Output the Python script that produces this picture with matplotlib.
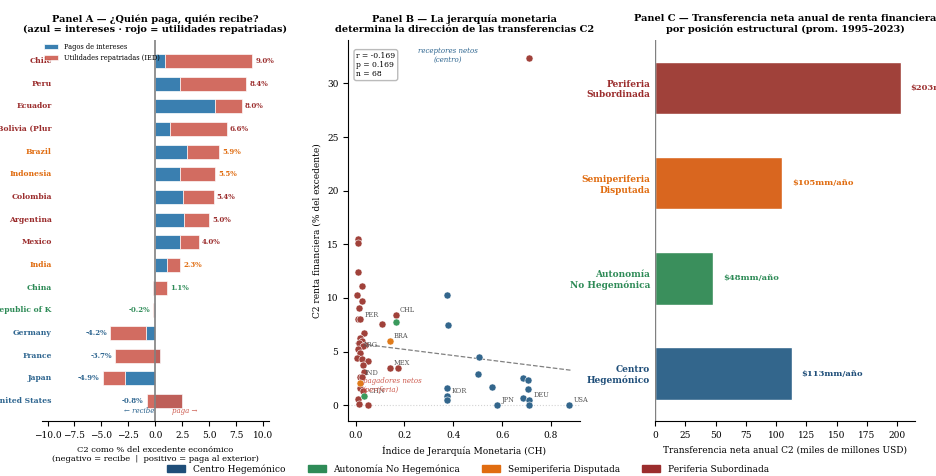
import numpy as np
import matplotlib
matplotlib.use("Agg")
import matplotlib.pyplot as plt
from matplotlib.patches import Patch

plt.rcParams["font.family"] = ["DejaVu Serif"]
plt.rcParams["font.size"] = 6
plt.rcParams["xtick.labelsize"] = 6.5
plt.rcParams["ytick.labelsize"] = 6.5

C_CEN = "#1f4e79"
C_AUT = "#2e8b57"
C_SEM = "#e06c10"
C_PER = "#9b2d2d"
GROUP_COL = {"cen": "#2f6690", "aut": C_AUT, "sem": C_SEM, "per": C_PER}

# --- Panel A data ---
countries = ["Chile", "Peru", "Ecuador", "Bolivia (Plur", "Brazil", "Indonesia", "Colombia",
             "Argentina", "Mexico", "India", "China", "Republic of K", "Germany", "France",
             "Japan", "United States"]
groups_a = ["per", "per", "per", "per", "sem", "sem", "per", "per", "per", "sem", "aut", "aut",
            "cen", "cen", "cen", "cen"]
interest = [0.9, 2.3, 5.5, 1.4, 2.9, 2.3, 2.6, 2.7, 2.3, 1.1, -0.2, -0.1, -0.9, 0.4, -2.8, 2.5]
profits = [8.1, 6.1, 2.5, 5.2, 3.0, 3.2, 2.8, 2.3, 1.7, 1.2, 1.3, -0.1, -3.3, -4.1, -2.1, -3.3]

# --- Panel B data ---
px_per = [0.01, 0.01, 0.01, 0.025, 0.005, 0.025, 0.015, 0.01, 0.02, 0.035, 0.02, 0.025, 0.015,
          0.04, 0.03, 0.01, 0.02, 0.005, 0.025, 0.05, 0.03, 0.035, 0.02, 0.025, 0.02, 0.03,
          0.01, 0.015, 0.05, 0.165, 0.11, 0.14, 0.175, 0.71]
py_per = [15.5, 15.1, 12.4, 11.1, 10.3, 9.7, 9.1, 8.0, 8.0, 6.7, 6.3, 6.0, 5.8, 5.6, 5.5, 5.2,
          4.9, 4.4, 4.3, 4.1, 3.7, 3.1, 2.6, 2.6, 1.6, 1.3, 0.6, 0.1, 0.0, 8.4, 7.6, 3.5, 3.5, 32.4]
px_sem = [0.14, 0.02]
py_sem = [6.0, 2.1]
px_aut = [0.165, 0.035, 0.375]
py_aut = [7.8, 0.9, 0.6]
px_cen = [0.375, 0.38, 0.505, 0.5, 0.56, 0.375, 0.375, 0.375, 0.58, 0.685, 0.705, 0.705,
          0.685, 0.71, 0.71, 0.875]
py_cen = [10.3, 7.5, 4.5, 2.9, 1.7, 1.6, 0.9, 0.5, 0.0, 2.5, 2.3, 1.5, 0.7, 0.5, 0.05, 0.0]
iso_labels = {"PER": (0.02, 8.0), "CHL": (0.165, 8.4), "BRA": (0.14, 6.0), "ARG": (0.01, 5.2),
              "MEX": (0.14, 3.5), "IND": (0.02, 2.6), "CHN": (0.035, 0.9), "KOR": (0.375, 0.9),
              "JPN": (0.58, 0.0), "DEU": (0.71, 0.5), "USA": (0.875, 0.0)}

# --- Panel C data ---
blocks = ["Periferia\nSubordinada", "Semiperiferia\nDisputada", "Autonomía\nNo Hegemónica",
          "Centro\nHegemónico"]
block_vals = [203, 105, 48, 113]
block_cols = ["#a0413a", "#d9661f", "#3a8f5c", "#33668c"]
block_txt = [C_PER, C_SEM, C_AUT, C_CEN]

fig = plt.figure(figsize=(9.36, 4.76), dpi=100)
axA = fig.add_axes([0.045, 0.115, 0.242, 0.8])
axB = fig.add_axes([0.372, 0.115, 0.248, 0.8])
axC = fig.add_axes([0.70, 0.115, 0.278, 0.8])

# Panel A
y = np.arange(len(countries))
axA.barh(y, interest, height=0.62, color="#3a7fb0", edgecolor="white", lw=0.5,
         label="Pagos de intereses")
axA.barh(y, profits, left=interest, height=0.62, color="#cd5c50", alpha=0.9, edgecolor="white",
         lw=0.5, label="Utilidades repatriadas (IED)")
axA.axvline(0, color="gray", lw=1.2)
for i, (a, b, g) in enumerate(zip(interest, profits, groups_a)):
    t = a + b
    col = GROUP_COL[g]
    if t >= 0:
        axA.text(max(t, a) + 0.3, i, f"{t:.1f}%", va="center", ha="left", color=col,
                 fontsize=5, fontweight="bold")
    else:
        axA.text(min(t, a) - 0.3, i, f"{t:.1f}%", va="center", ha="right", color=col,
                 fontsize=5, fontweight="bold")
    axA.text(-9.6, i, countries[i], va="center", ha="right", color=col, fontsize=5.5,
             fontweight="bold")
axA.set_yticks([])
axA.set_ylim(len(countries) - 0.1, -0.9)
axA.set_xlim(-10.5, 10.5)
axA.set_xticks(np.arange(-10, 10.1, 2.5))
axA.text(-0.1, 15.45, "← recibe", ha="right", va="center", fontsize=5, style="italic",
         color="#2f6690")
axA.text(1.5, 15.45, "paga →", ha="left", va="center", fontsize=5, style="italic",
         color="#cd5c50")
for s in ["top", "right", "left"]:
    axA.spines[s].set_visible(False)
axA.set_xlabel("C2 como % del excedente económico\n(negativo = recibe  |  positivo = paga al exterior)",
               fontsize=6)
axA.set_title("Panel A — ¿Quién paga, quién recibe?\n(azul = intereses · rojo = utilidades repatriadas)",
              fontsize=7, fontweight="bold")
axA.legend(loc="upper left", bbox_to_anchor=(-0.02, 1.01), fontsize=4.8, frameon=False,
           handlelength=2.2)

# Panel B
for xs, ys, c in [(px_per, py_per, "#a0413a"), (px_sem, py_sem, "#e07b1a"),
                  (px_aut, py_aut, "#3a9a5c"), (px_cen, py_cen, "#33668c")]:
    axB.scatter(xs, ys, s=26, color=c, edgecolor="white", lw=0.4, zorder=3)
allx = np.array(px_per + px_sem + px_aut + px_cen)
ally = np.array(py_per + py_sem + py_aut + py_cen)
k, b0 = np.polyfit(allx, ally, 1)
xl = np.array([0.0, 0.88])
axB.plot(xl, k * xl + b0, ls="--", color="gray", lw=0.9)
axB.axhline(0, color="lightgray", ls=":", lw=0.8)
for name, (xx, yy) in iso_labels.items():
    axB.annotate(name, (xx, yy), xytext=(3, 2), textcoords="offset points", fontsize=4.8,
                 color="#555555")
axB.text(0.38, 32.6, "receptores netos\n(centro)", ha="center", va="center", fontsize=5,
         style="italic", color="#2f6690")
axB.text(0.03, 1.8, "pagadores netos\n(periferia)", ha="left", va="center", fontsize=5,
         style="italic", color="#cd5c50")
axB.text(0.035, 0.97, "r = -0.169\np = 0.169\nn = 68", transform=axB.transAxes, va="top",
         fontsize=5.5, bbox=dict(boxstyle="round,pad=0.3", fc="white", ec="#bbbbbb"))
axB.set_xlim(-0.03, 0.92)
axB.set_ylim(-1.5, 34)
axB.set_xticks([0, 0.2, 0.4, 0.6, 0.8])
axB.set_yticks([0, 5, 10, 15, 20, 25, 30])
axB.spines["top"].set_visible(False)
axB.spines["right"].set_visible(False)
axB.set_xlabel("Índice de Jerarquía Monetaria (CH)", fontsize=6.5)
axB.set_ylabel("C2 renta financiera (% del excedente)", fontsize=6.5)
axB.set_title("Panel B — La jerarquía monetaria\ndetermina la dirección de las transferencias C2",
              fontsize=7, fontweight="bold")

# Panel C
yc = np.arange(len(blocks))
axC.barh(yc, block_vals, height=0.55, color=block_cols, edgecolor="white")
for i, v in enumerate(block_vals):
    axC.text(v + 8, i, f"${v}mm/año", va="center", ha="left", fontsize=6,
             fontweight="bold", color=block_txt[i])
axC.set_yticks(yc)
axC.set_yticklabels(blocks, fontweight="bold", fontsize=6.5)
for lab, c in zip(axC.get_yticklabels(), block_txt):
    lab.set_color(c)
axC.tick_params(axis="y", length=0)
axC.set_ylim(3.5, -0.5)
axC.set_xlim(0, 215)
axC.set_xticks(np.arange(0, 201, 25))
axC.axvline(0, color="gray", lw=1)
for s in ["top", "right", "left"]:
    axC.spines[s].set_visible(False)
axC.set_xlabel("Transferencia neta anual C2 (miles de millones USD)", fontsize=6.5)
axC.set_title("Panel C — Transferencia neta anual de renta financiera\npor posición estructural (prom. 1995–2023)",
              fontsize=7, fontweight="bold")

handles = [Patch(color=C_CEN, label="Centro Hegemónico"), Patch(color=C_AUT, label="Autonomía No Hegemónica"),
           Patch(color=C_SEM, label="Semiperiferia Disputada"), Patch(color=C_PER, label="Periferia Subordinada")]
fig.legend(handles=handles, loc="lower center", ncol=4, frameon=False, fontsize=6.5,
           bbox_to_anchor=(0.5, -0.012), columnspacing=2.5)

fig.savefig("out.png", dpi=100)
